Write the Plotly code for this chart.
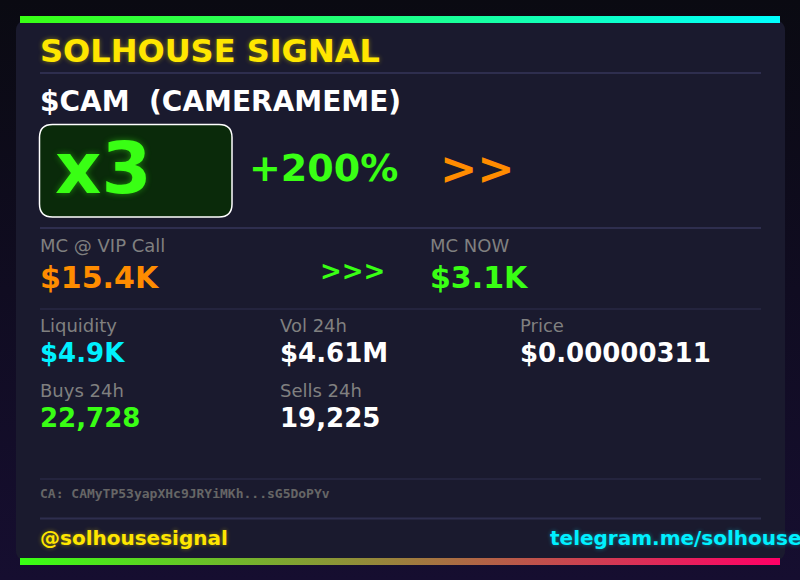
"""
SOLHOUSE SIGNAL Karte, nachgebaut mit Plotly
"""

import math

import plotly.graph_objects as go

SANS = "DejaVu Sans"
MONO = "DejaVu Sans Mono"

GREEN = "#39ff14"
YELLOW = "#ffe600"
ORANGE = "#ff8c00"
CYAN = "#00f0ff"
WHITE = "#ffffff"
GREY = "#808080"

title = "SOLHOUSE SIGNAL"
token = "$CAM  (CAMERAMEME)"
multiple = "x3"
gain = "+200%"
arrows = ">>"
mc_call = ("MC @ VIP Call", "$15.4K")
mc_now = ("MC NOW", "$3.1K")
mc_arrows = ">>>"
stat_labels = ["Liquidity", "Vol 24h", "Price", "Buys 24h", "Sells 24h"]
stat_values = ["$4.9K", "$4.61M", "$0.00000311", "22,728", "19,225"]
stat_colors = [CYAN, WHITE, WHITE, GREEN, WHITE]
stat_x = [40, 280, 520, 40, 280]
stat_label_y = [325, 325, 325, 390, 390]
stat_value_y = [353, 353, 353, 418, 418]
contract = "CA: CAMyTP53yapXHc9JRYiMKh...sG5DoPYv"
handle = "@solhousesignal"
link = "telegram.me/solhousesignal"


def round_rect(x0, y0, x1, y1, r):
    return (
        f"M{x0 + r},{y0} L{x1 - r},{y0} Q{x1},{y0} {x1},{y0 + r} "
        f"L{x1},{y1 - r} Q{x1},{y1} {x1 - r},{y1} "
        f"L{x0 + r},{y1} Q{x0},{y1} {x0},{y1 - r} "
        f"L{x0},{y0 + r} Q{x0},{y0} {x0 + r},{y0} Z"
    )


def round_outline(x0, y0, x1, y1, r):
    # Umriss mit runden Ecken als Punktliste fuer eine Scatter-Flaeche
    xs, ys = [], []
    corners = [(x1 - r, y0 + r, -90), (x1 - r, y1 - r, 0),
               (x0 + r, y1 - r, 90), (x0 + r, y0 + r, 180)]
    for cx, cy, start in corners:
        for step in range(9):
            a = math.radians(start + step * 90 / 8)
            xs.append(cx + r * math.cos(a))
            ys.append(cy + r * math.sin(a))
    return xs + xs[:1], ys + ys[:1]


def gradient_rect(fig, x0, y0, x1, y1, c0, c1, kind):
    fig.add_trace(go.Scatter(
        x=[x0, x1, x1, x0, x0],
        y=[y0, y0, y1, y1, y0],
        mode="none",
        fill="toself",
        fillgradient=dict(type=kind, colorscale=[[0, c0], [1, c1]]),
        hoverinfo="skip",
        showlegend=False,
    ))


def label(fig, x, y, text, size, color, bold=True, family=SANS, glow=None):
    font = dict(family=family, size=size, color=color,
                weight="bold" if bold else "normal")
    if glow:
        font["shadow"] = glow
    fig.add_annotation(
        x=x, y=y, text=text, font=font, showarrow=False,
        xanchor="left", yanchor="middle", borderpad=0, borderwidth=0,
    )


fig = go.Figure()

# y-Achse ist umgedreht, deshalb steht die untere Farbe zuerst
gradient_rect(fig, 0, 0, 800, 580, "#160e30", "#0a0a12", "vertical")

card_x, card_y = round_outline(16, 20, 785, 561, 10)
fig.add_trace(go.Scatter(
    x=card_x, y=card_y, mode="none", fill="toself", fillcolor="#1a1a2e",
    hoverinfo="skip", showlegend=False,
))

gradient_rect(fig, 20, 16, 780, 23, GREEN, "#00ffff", "horizontal")
gradient_rect(fig, 20, 558, 780, 565, GREEN, "#ff0066", "horizontal")

shapes = [
    dict(type="path", path=round_rect(39.5, 124.5, 232, 217, 13),
         fillcolor="#0a2a0a", line=dict(color=WHITE, width=1.5)),
]
for y, w in [(73, 2), (228, 2), (309, 1), (479, 1), (518.5, 2)]:
    shapes.append(dict(type="line", x0=40, x1=761, y0=y, y1=y,
                       line=dict(color="#2e2e4e", width=w)))
fig.update_layout(shapes=shapes)

label(fig, 40, 51, title, 32, YELLOW, glow=f"0 0 5px {YELLOW}70")
label(fig, 40, 101, token, 28, WHITE)
label(fig, 55, 168, multiple, 72, GREEN, glow=f"0 0 6px {GREEN}70")
label(fig, 249, 168, gain, 38, GREEN)
label(fig, 440, 168, arrows, 44.5, ORANGE)

label(fig, 40, 245, mc_call[0], 18, GREY, bold=False)
label(fig, 40, 277, mc_call[1], 30, ORANGE)
label(fig, 320, 271, mc_arrows, 26, GREEN)
label(fig, 430, 245, mc_now[0], 18, GREY, bold=False)
label(fig, 430, 277, mc_now[1], 30, GREEN)

for i in range(len(stat_labels)):
    label(fig, stat_x[i], stat_label_y[i], stat_labels[i], 18, GREY, bold=False)
    label(fig, stat_x[i], stat_value_y[i], stat_values[i], 26, stat_colors[i])

label(fig, 40, 493, contract, 13, "#666666", family=MONO)
label(fig, 40, 538, handle, 20, YELLOW, glow=f"0 0 4px {YELLOW}70")
label(fig, 550, 538, link, 20, CYAN, glow=f"0 0 4px {CYAN}70")

fig.update_layout(
    width=800,
    height=580,
    margin=dict(l=0, r=0, t=0, b=0),
    paper_bgcolor="#0a0a12",
    plot_bgcolor="#0a0a12",
    xaxis=dict(range=[0, 800], visible=False, fixedrange=True),
    yaxis=dict(range=[580, 0], visible=False, fixedrange=True),
    showlegend=False,
)

fig.write_html(
    "out.html",
    config={"displayModeBar": False},
    post_script="document.body.style.margin='0';document.body.style.overflow='hidden';",
)
